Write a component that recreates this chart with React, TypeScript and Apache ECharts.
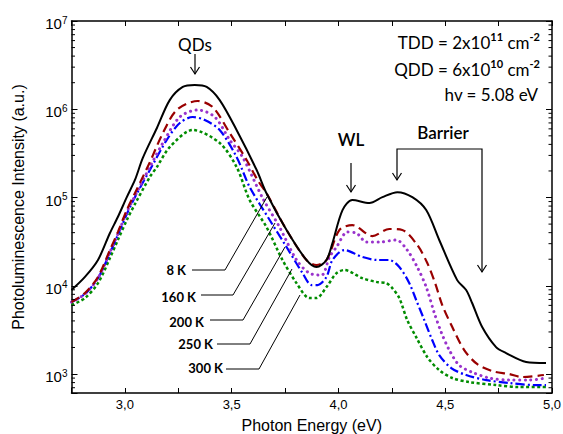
import React, { useEffect, useRef } from 'react';
import * as echarts from 'echarts';

const seriesNames = ['8 K', '160 K', '200 K', '250 K', '300 K'];

const energy8K = [2.75, 2.813, 2.874, 2.93, 2.967, 3.009, 3.047, 3.084, 3.15, 3.21, 3.271, 3.327, 3.383, 3.444, 3.523, 3.617, 3.663, 3.757, 3.85, 3.897, 3.944, 3.972, 4.019, 4.065, 4.145, 4.206, 4.276, 4.346, 4.411, 4.472, 4.556, 4.598, 4.626, 4.673, 4.738, 4.785, 4.879, 4.972];
const intensity8K = [8950, 12600, 19600, 39600, 60100, 101000, 158000, 281000, 614000, 1270000, 1790000, 1880000, 1790000, 1270000, 582000, 205000, 112000, 42900, 19600, 16300, 19600, 30500, 72100, 93800, 86700, 101000, 115000, 101000, 72100, 33000, 11600, 8950, 6380, 3410, 2020, 1730, 1370, 1330];

const energy160K = [2.75, 2.813, 2.874, 2.93, 2.967, 3.009, 3.047, 3.117, 3.178, 3.243, 3.341, 3.411, 3.491, 3.57, 3.621, 3.663, 3.757, 3.85, 3.897, 3.944, 4.005, 4.065, 4.159, 4.238, 4.299, 4.369, 4.416, 4.453, 4.486, 4.533, 4.589, 4.649, 4.72, 4.799, 4.86, 4.962];
const intensity160K = [6550, 8280, 12600, 25400, 40600, 72100, 112000, 252000, 538000, 982000, 1240000, 1060000, 538000, 266000, 158000, 112000, 42900, 19600, 17200, 19600, 42900, 48800, 36600, 44000, 42900, 29000, 18100, 10700, 6050, 3410, 1870, 1300, 1080, 1000, 925, 975];

const energy200K = [2.75, 2.813, 2.874, 2.93, 2.967, 3.009, 3.047, 3.117, 3.178, 3.257, 3.341, 3.421, 3.491, 3.551, 3.645, 3.724, 3.804, 3.864, 3.921, 3.958, 3.991, 4.042, 4.084, 4.131, 4.192, 4.271, 4.322, 4.369, 4.411, 4.449, 4.481, 4.519, 4.565, 4.626, 4.706, 4.799, 4.893, 4.972];
const intensity200K = [6550, 8070, 12200, 24100, 38500, 68500, 104000, 222000, 415000, 817000, 982000, 817000, 449000, 288000, 98600, 46300, 19600, 13900, 13200, 21200, 27500, 40600, 39600, 31300, 31300, 33000, 25400, 16300, 9680, 4910, 2990, 1870, 1260, 1050, 902, 855, 855, 902];

const energy250K = [2.75, 2.813, 2.874, 2.93, 2.967, 3.009, 3.047, 3.117, 3.196, 3.257, 3.318, 3.374, 3.444, 3.523, 3.584, 3.678, 3.757, 3.832, 3.874, 3.902, 3.944, 3.972, 4.028, 4.112, 4.182, 4.238, 4.285, 4.332, 4.364, 4.402, 4.439, 4.472, 4.528, 4.598, 4.692, 4.799, 4.925, 4.972];
const intensity250K = [6550, 8070, 12200, 23500, 37600, 65000, 101000, 205000, 449000, 698000, 817000, 755000, 582000, 288000, 132000, 55600, 27500, 13900, 10200, 10200, 12600, 19600, 25400, 21200, 19600, 19600, 16300, 10700, 6900, 4090, 2430, 1640, 1170, 975, 855, 791, 750, 750];

const energy300K = [2.75, 2.813, 2.874, 2.93, 2.967, 3.009, 3.047, 3.117, 3.15, 3.21, 3.318, 3.444, 3.523, 3.584, 3.663, 3.738, 3.804, 3.864, 3.897, 3.944, 3.991, 4.028, 4.112, 4.182, 4.224, 4.252, 4.285, 4.322, 4.364, 4.416, 4.472, 4.533, 4.612, 4.738, 4.846, 4.972];
const intensity300K = [6050, 7260, 10700, 20600, 33000, 55600, 84300, 171000, 222000, 373000, 582000, 415000, 222000, 93800, 46300, 19600, 10700, 7260, 7260, 9680, 13900, 15100, 12200, 11000, 10700, 9420, 7260, 4090, 2620, 1560, 1110, 902, 811, 750, 713, 713];

const xLabelValues = [3.0, 3.5, 4.0, 4.5, 5.0];
const yDecadeExponents = [3, 4, 5, 6, 7];
const yMinorMultipliers = [2, 3, 4, 5, 6, 7, 8, 9];

const X_MIN = 2.75;
const X_MAX = 5.0;
const Y_MIN = 610;
const Y_MAX = 1e7;

export default function App() {
  const ref = useRef<HTMLDivElement>(null);

  useEffect(() => {
    const chart = echarts.init(ref.current!, null, { renderer: 'svg' });

    const energies = [energy8K, energy160K, energy200K, energy250K, energy300K];
    const intensities = [intensity8K, intensity160K, intensity200K, intensity250K, intensity300K];
    const styles: any[] = [
      { color: '#000000', type: 'solid', width: 2 },
      { color: '#990000', type: [9, 5], width: 2.2 },
      { color: '#9933CC', type: [0.1, 5.5], width: 3, cap: 'round' },
      { color: '#0000FF', type: [9, 3, 2, 3], width: 2.2 },
      { color: '#008C00', type: [3, 2.5], width: 2.5 },
    ];

    const lineSeries = [4, 3, 2, 1, 0].map((i) => ({
      name: seriesNames[i],
      type: 'line',
      data: energies[i].map((e, k) => [e, intensities[i][k]]),
      showSymbol: false,
      symbol: 'none',
      smooth: 0.3,
      lineStyle: styles[i],
      z: 3 + (4 - i),
    }));

    const minorTicks: number[] = [];
    for (let e = 2; e < 7; e++) {
      for (const m of yMinorMultipliers) {
        const v = m * Math.pow(10, e);
        if (v > Y_MIN && v < Y_MAX) minorTicks.push(v);
      }
    }

    const minorTickSeries = {
      type: 'custom',
      silent: true,
      clip: false,
      z: 10,
      data: minorTicks.map((v) => [X_MIN, v]),
      renderItem: (params: any, api: any) => {
        const v = api.value(1);
        const pL = api.coord([X_MIN, v]);
        const pR = api.coord([X_MAX, v]);
        return {
          type: 'group',
          children: [
            { type: 'line', shape: { x1: pL[0], y1: pL[1], x2: pL[0] + 3.5, y2: pL[1] }, style: { stroke: '#000', lineWidth: 1 } },
            { type: 'line', shape: { x1: pR[0], y1: pR[1], x2: pR[0] - 3.5, y2: pR[1] }, style: { stroke: '#000', lineWidth: 1 } },
          ],
        };
      },
    };

    const axisLine = { show: true, onZero: false, lineStyle: { color: '#000', width: 1.5 } };
    const sans = '"Liberation Sans", Arial, sans-serif';
    const calib = 'Lato, "Open Sans", sans-serif';

    const xFormatter = (v: number) => {
      const hit = xLabelValues.find((t) => Math.abs(t - v) < 1e-6);
      return hit === undefined ? '' : hit.toFixed(1).replace('.', ',');
    };
    const yFormatter = (v: number) => {
      const l = Math.log10(v);
      const e = Math.round(l);
      if (Math.abs(l - e) > 0.01 || yDecadeExponents.indexOf(e) < 0) return '';
      return `{b|10}{s|${e}}`;
    };

    const arrowDown = (x: number, y1: number, y2: number) => [
      { type: 'line', z: 20, shape: { x1: x, y1, x2: x, y2 }, style: { stroke: '#000', lineWidth: 1.2 } },
      { type: 'polyline', z: 20, shape: { points: [[x - 4.5, y2 - 7], [x, y2], [x + 4.5, y2 - 7]] }, style: { stroke: '#000', lineWidth: 1.2, fill: null } },
    ];

    const txt = (text: string, x: number, y: number, size: number, align: string, weight: any = 'normal', family = calib, rich?: any) => ({
      type: 'text',
      z: 20,
      style: {
        text, x, y,
        fontSize: size, fontFamily: family, fontWeight: weight,
        fill: '#000',
        align, verticalAlign: 'middle',
        textAlign: align, textVerticalAlign: 'middle',
        rich,
      },
    });

    const supRich = (size: number) => ({
      a: { fontSize: size, fontFamily: calib, fill: '#000', color: '#000', lineHeight: 20, verticalAlign: 'bottom' },
      s: { fontSize: Math.round(size * 0.65), fontFamily: calib, fontWeight: 'bold', fill: '#000', color: '#000', lineHeight: 9, verticalAlign: 'top' },
    });

    const tempLabels: [string, number, number, number[][]][] = [
      ['8 K', 186, 270, [[192, 270], [225, 270], [267, 197]]],
      ['160 K', 196, 297, [[201, 295], [233, 295], [275, 223]]],
      ['200 K', 204, 322, [[210, 320], [243, 320], [285, 247]]],
      ['250 K', 213, 344, [[217, 344], [250, 344], [292, 269]]],
      ['300 K', 223, 368, [[226, 369], [259, 369], [300, 295]]],
    ];

    const graphics: any[] = [
      txt('QDs', 195, 44, 17, 'center'),
      ...arrowDown(195, 54, 74),
      txt('WL', 351, 139, 17, 'center', 600),
      ...arrowDown(351, 163, 192),
      txt('Barrier', 443, 132, 17, 'center', 600),
      { type: 'polyline', z: 20, shape: { points: [[397, 180], [397, 149], [482, 149], [482, 272]] }, style: { stroke: '#000', lineWidth: 1.2, fill: null } },
      { type: 'polyline', z: 20, shape: { points: [[392.5, 173], [397, 180], [401.5, 173]] }, style: { stroke: '#000', lineWidth: 1.2, fill: null } },
      { type: 'polyline', z: 20, shape: { points: [[477.5, 265], [482, 272], [486.5, 265]] }, style: { stroke: '#000', lineWidth: 1.2, fill: null } },
      txt('{a|TDD = 2x10}{s|11}{a| cm}{s|-2}', 540, 41, 17, 'right', 'normal', calib, supRich(17)),
      txt('{a|QDD = 6x10}{s|10}{a| cm}{s|-2}', 540, 68, 17, 'right', 'normal', calib, supRich(17)),
      txt('hv = 5.08 eV', 538, 94, 17, 'right'),
    ];
    tempLabels.forEach(([label, tx, ty, pts]) => {
      graphics.push(txt(label, tx, ty, 13, 'right', 'bold'));
      graphics.push({ type: 'polyline', z: 20, shape: { points: pts }, style: { stroke: '#000', lineWidth: 1, fill: null } });
    });

    const option: any = {
      animation: false,
      backgroundColor: '#ffffff',
      grid: { left: 71.5, right: 11, top: 21, bottom: 41, containLabel: false, outerBoundsMode: 'none' },
      xAxis: [
        {
          type: 'value', min: X_MIN, max: X_MAX, interval: 0.25, position: 'bottom',
          axisLine,
          axisTick: { show: true, inside: true, length: 5, lineStyle: { color: '#000', width: 1 } },
          axisLabel: { formatter: xFormatter, color: '#000', fontSize: 13, fontFamily: sans, margin: 5, showMinLabel: true, showMaxLabel: true },
          splitLine: { show: false },
          name: 'Photon Energy (eV)', nameLocation: 'middle', nameGap: 24,
          nameTextStyle: { color: '#000', fontSize: 16, fontFamily: sans },
        },
        {
          type: 'value', min: X_MIN, max: X_MAX, interval: 0.25, position: 'top',
          axisLine,
          axisTick: { show: true, inside: true, length: 5, lineStyle: { color: '#000', width: 1 } },
          axisLabel: { show: false },
          splitLine: { show: false },
        },
      ],
      yAxis: [
        {
          type: 'log', logBase: 10, min: Y_MIN, max: Y_MAX, position: 'left',
          axisLine,
          axisTick: { show: true, inside: true, length: 6, lineStyle: { color: '#000', width: 1 } },
          axisLabel: {
            formatter: yFormatter, margin: 4, color: '#000', padding: [4, 0, 0, 0],
            rich: {
              b: { fontSize: 15, fontFamily: sans, color: '#000', lineHeight: 16, verticalAlign: 'bottom' },
              s: { fontSize: 10, fontFamily: sans, color: '#000', lineHeight: 7, verticalAlign: 'top' },
            },
          },
          splitLine: { show: false },
          minorTick: { show: false },
          name: 'Photoluminescence Intensity (a.u.)', nameLocation: 'middle', nameGap: 45,
          nameTextStyle: { color: '#000', fontSize: 16, fontFamily: sans },
        },
        {
          type: 'log', logBase: 10, min: Y_MIN, max: Y_MAX, position: 'right',
          axisLine,
          axisTick: { show: true, inside: true, length: 6, lineStyle: { color: '#000', width: 1 } },
          axisLabel: { show: false },
          splitLine: { show: false },
        },
      ],
      series: [...lineSeries, minorTickSeries],
      graphic: graphics,
    };

    chart.setOption(option);
    return () => chart.dispose();
  }, []);

  return <div ref={ref} style={{ position: 'absolute', left: 0, top: 0, width: 563, height: 434 }} />;
}
